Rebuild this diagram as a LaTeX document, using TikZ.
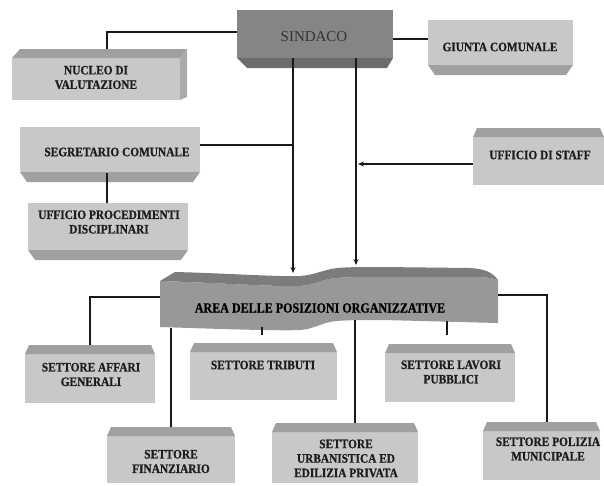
\documentclass[tikz,border=0pt]{standalone}
\usepackage{fontspec}
\setmainfont{Liberation Serif}
\newfontfamily\boxfont{Liberation Serif}[FakeStretch=0.88,FakeBold=0.6]
\newfontfamily\areafont{Liberation Serif}[FakeStretch=0.86,FakeBold=0.8]
\usetikzlibrary{arrows.meta,calc}
\definecolor{facec}{RGB}{200,200,200}
\definecolor{bevelc}{RGB}{160,160,160}
\definecolor{sface}{RGB}{133,133,133}
\definecolor{sbevel}{RGB}{108,108,108}
\definecolor{bface}{RGB}{152,152,152}
\definecolor{btop}{RGB}{124,124,124}
\definecolor{linec}{RGB}{25,25,25}
\definecolor{txtc}{RGB}{28,28,28}
\begin{document}
\begin{tikzpicture}[x=1pt,y=-1pt,
  shp/.style={draw=none,inner sep=0pt,outer sep=0pt},
  tbox/.style={shp,path picture={
    \fill[facec] ([yshift=-9pt]path picture bounding box.north west) rectangle (path picture bounding box.south east);
    \fill[bevelc] ([yshift=-9pt]path picture bounding box.north west) -- ([xshift=4pt]path picture bounding box.north west) -- ([xshift=-4pt]path picture bounding box.north east) -- ([yshift=-9pt]path picture bounding box.north east) -- cycle;}},
  bbox/.style={shp,path picture={
    \fill[facec] (path picture bounding box.north west) rectangle ([yshift=10pt]path picture bounding box.south east);
    \fill[bevelc] ([yshift=10pt]path picture bounding box.south west) -- ([xshift=7pt]path picture bounding box.south west) -- ([xshift=-7pt]path picture bounding box.south east) -- ([yshift=10pt]path picture bounding box.south east) -- cycle;}},
  sbox/.style={shp,path picture={
    \fill[sface] (path picture bounding box.north west) rectangle ([yshift=10pt]path picture bounding box.south east);
    \fill[sbevel] ([yshift=10pt]path picture bounding box.south west) -- ([xshift=10pt]path picture bounding box.south west) -- ([xshift=-6pt]path picture bounding box.south east) -- ([yshift=10pt]path picture bounding box.south east) -- cycle;}},
  nbox/.style={shp,path picture={
    \fill[facec] ([yshift=-9pt]path picture bounding box.north west) rectangle ([xshift=-7pt]path picture bounding box.south east);
    \fill[bevelc] ([yshift=-9pt]path picture bounding box.north west) -- ([xshift=8pt]path picture bounding box.north west) -- (path picture bounding box.north east) -- ([xshift=-7pt,yshift=-9pt]path picture bounding box.north east) -- cycle;
    \fill[bevelc!90!white] ([xshift=-7pt,yshift=-9pt]path picture bounding box.north east) -- (path picture bounding box.north east) -- ([yshift=3pt]path picture bounding box.south east) -- ([xshift=-7pt]path picture bounding box.south east) -- cycle;}},
  lbl/.style={align=center,text=txtc,font=\boxfont\fontsize{12.9}{14.5}\selectfont\bfseries,inner sep=0pt},
  conn/.style={draw=linec,line width=1.4pt},
  arr/.style={conn,-{Stealth[length=6pt,width=5pt]}}
]
\useasboundingbox (0,0) rectangle (604,485);

% boxes (full extents incl. bevel)
\node[sbox,minimum width=156,minimum height=58] (sindaco) at (315,39) {};
\node[text=black!80,inner sep=0pt,font=\fontsize{15}{18}\selectfont] (tsind) at (314,37) {SINDACO};

\node[bbox,minimum width=145,minimum height=55] (giunta) at (500.5,47.5) {};
\node[lbl] (tgiunta) at (500,47) {GIUNTA COMUNALE};

\node[nbox,minimum width=175,minimum height=51] (nucleo) at (99.5,74.5) {};
\node[lbl] (tnucleo) at (96,77.5) {NUCLEO DI\\VALUTAZIONE};

\node[bbox,minimum width=180,minimum height=55] (segretario) at (110,154.5) {};
\node[lbl] (tsegr) at (117,152) {SEGRETARIO COMUNALE};

\node[bbox,minimum width=160,minimum height=57] (ufficio) at (108,231.5) {};
\node[lbl] (tuff) at (109,222) {UFFICIO PROCEDIMENTI\\DISCIPLINARI};

\node[tbox,minimum width=131,minimum height=57] (staff) at (538.5,156.5) {};
\node[lbl] (tstaff) at (540,155) {UFFICIO DI STAFF};

\node[tbox,minimum width=130,minimum height=58] (affari) at (90,374) {};
\node[lbl] (taff) at (91,374.5) {SETTORE AFFARI\\GENERALI};

\node[tbox,minimum width=147,minimum height=57] (tributi) at (263.5,371.5) {};
\node[lbl] (ttrib) at (263,365) {SETTORE TRIBUTI};

\node[tbox,minimum width=130,minimum height=58] (lavori) at (450,373) {};
\node[lbl] (tlav) at (451,372) {SETTORE LAVORI\\PUBBLICI};

\node[tbox,minimum width=128,minimum height=56] (finanz) at (171,455) {};
\node[lbl] (tfin) at (171,461.5) {SETTORE\\FINANZIARIO};

\node[tbox,minimum width=146,minimum height=60] (urb) at (345,453) {};
\node[lbl] (turb) at (346,458.5) {SETTORE\\URBANISTICA ED\\EDILIZIA PRIVATA};

\node[tbox,minimum width=117,minimum height=58] (polizia) at (541.5,451) {};
\node[lbl] (tpol) at (548,449) {SETTORE POLIZIA\\MUNICIPALE};

% banner
\fill[bface] (160,281) .. controls (220,283) and (280,287) .. (300,286)
  .. controls (315,285) and (322,279) .. (337,278)
  .. controls (350,277) and (360,277) .. (383,277) -- (470,277)
  .. controls (485,277) and (492,278) .. (498,280) -- (498,323) -- (383,320)
  .. controls (360,320) and (350,320) .. (337,321)
  .. controls (322,322) and (315,329) .. (300,330)
  .. controls (280,331) and (220,329) .. (160,327) -- cycle;
\fill[btop] (160,281) .. controls (220,283) and (280,287) .. (300,286)
  .. controls (315,285) and (322,279) .. (337,278)
  .. controls (350,277) and (360,277) .. (383,277) -- (470,277)
  .. controls (485,277) and (492,278) .. (498,280)
  .. controls (492,272) and (485,269) .. (470,268) -- (383,267)
  .. controls (360,267) and (350,267) .. (337,268)
  .. controls (322,270) and (315,275) .. (300,276)
  .. controls (280,277) and (220,273) .. (175,272) -- cycle;
\node[lbl,font=\areafont\fontsize{14}{16}\selectfont\bfseries,text=black] (area) at (320,308) {AREA DELLE POSIZIONI ORGANIZZATIVE};

\coordinate (a1) at (293,273);
\coordinate (a2) at (356,265);
\coordinate (al) at (160,297);
\coordinate (ar) at (498,295);
\coordinate (bt) at (262,327);
\coordinate (bf) at (171,328);
\coordinate (bu) at (355,320);
\coordinate (bl) at (447,321);
\coordinate (j1) at (293,145);
\coordinate (j2) at (358,164);

% connectors
\draw[conn] (sindaco.west |- 0,32) -| (nucleo.north -| 107,0);
\draw[conn] (sindaco.east |- 0,39) -- (giunta.west |- 0,39);
\draw[arr] ($(sindaco.south -| 293,0)+(0,-10)$) -- (a1);
\draw[arr] ($(sindaco.south -| 356,0)+(0,-10)$) -- (a2);
\draw[conn] (segretario.east |- 0,145) -- (j1);
\draw[conn] ($(segretario.south -| 107,0)+(0,-9)$) -- (ufficio.north -| 107,0);
\draw[arr] (staff.west |- 0,164) -- (j2);
\draw[conn] (al) -| (affari.north -| 90,0);
\draw[conn] (bt) -- ($(tributi.north -| 262,0)+(0,-8)$);
\draw[conn] (bf) -- (finanz.north -| 171,0);
\draw[conn] (bu) -- (urb.north -| 355,0);
\draw[conn] (bl) -- ($(lavori.north -| 447,0)+(0,-9)$);
\draw[conn] (ar) -| (polizia.north -| 547,0);
\end{tikzpicture}
\end{document}
